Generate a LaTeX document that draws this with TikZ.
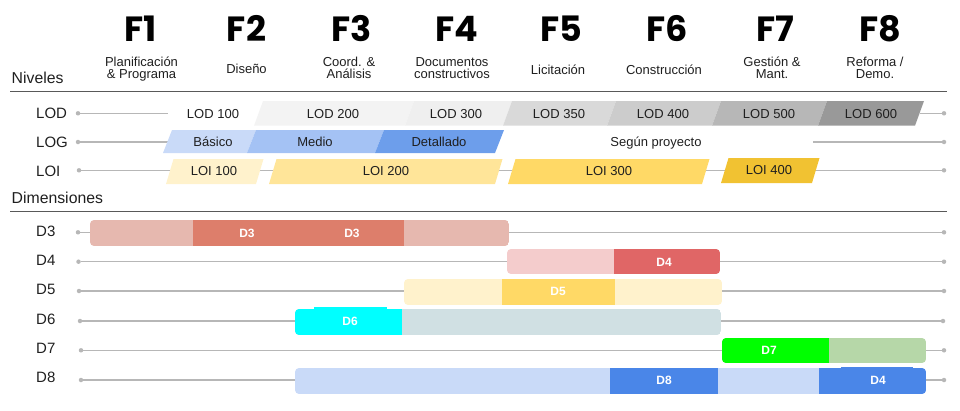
\documentclass[tikz,border=0pt]{standalone}
\usepackage{fontspec}
\setmainfont{Liberation Sans}
\newfontfamily\phasefont{Poppins}
\definecolor{txt}{HTML}{1F1F1F}
\definecolor{linegray}{HTML}{B7B7B7}
\definecolor{darkline}{HTML}{595959}
\definecolor{lodA}{HTML}{F3F3F3}
\definecolor{lodB}{HTML}{EFEFEF}
\definecolor{lodC}{HTML}{D9D9D9}
\definecolor{lodD}{HTML}{CCCCCC}
\definecolor{lodE}{HTML}{B7B7B7}
\definecolor{lodF}{HTML}{999999}
\definecolor{logA}{HTML}{C9DAF8}
\definecolor{logB}{HTML}{A4C2F4}
\definecolor{logC}{HTML}{6D9EEB}
\definecolor{loiA}{HTML}{FFF2CC}
\definecolor{loiB}{HTML}{FFE599}
\definecolor{loiC}{HTML}{FFD966}
\definecolor{loiD}{HTML}{F1C232}
\definecolor{dthreeL}{HTML}{E6B8AF}
\definecolor{dthreeD}{HTML}{DD7E6B}
\definecolor{dfourL}{HTML}{F4CCCC}
\definecolor{dfourD}{HTML}{E06666}
\definecolor{dfiveL}{HTML}{FFF2CC}
\definecolor{dfiveD}{HTML}{FFD966}
\definecolor{dsixL}{HTML}{D0E0E3}
\definecolor{dsixD}{HTML}{00FFFF}
\definecolor{dsevenL}{HTML}{B6D7A8}
\definecolor{dsevenD}{HTML}{00FF00}
\definecolor{deightL}{HTML}{C9DAF8}
\definecolor{deightD}{HTML}{4A86E8}
% parallelogram: colour, x bottom-left, x bottom-right, y top, y bottom, skew
\newcommand\mypara[6]{\fill[#1] (#2,#5) -- (#3,#5) -- ({#3+#6},#4) -- ({#2+#6},#4) -- cycle;}
\tikzset{
  rowlbl/.style={anchor=base west, font=\fontsize{15}{18}\selectfont, text=txt, inner sep=0pt},
  seclbl/.style={anchor=base west, font=\fontsize{15.8}{18}\selectfont, text=txt, inner sep=0pt},
  cell/.style={anchor=base, font=\fontsize{13}{15}\selectfont, text=txt, inner sep=0pt},
  barlbl/.style={anchor=base, font=\fontsize{12}{14}\selectfont\bfseries, text=white, inner sep=0pt},
  phase/.style={anchor=base, font=\phasefont\bfseries\fontsize{35}{40}\selectfont, text=black, inner sep=0pt},
  sub/.style={anchor=base, font=\fontsize{13}{15}\selectfont, text=txt, inner sep=0pt},
  rowline/.style={draw=linegray, line width=1.1pt},
  hline/.style={draw=darkline, line width=1.3pt},
  dot/.style={circle, fill=linegray, inner sep=0pt, minimum size=4.5pt},
}
\begin{document}
\begin{tikzpicture}[x=1pt,y=-1pt]
\useasboundingbox (0,0) rectangle (960,410);

% ---------- phases ----------
\node[phase] (f1) at (141,41) {F1};
\node[phase] (f2) at (246.5,41) {F2};
\node[phase] (f3) at (351.5,41) {F3};
\node[phase] (f4) at (456.5,41) {F4};
\node[phase] (f5) at (561,41) {F5};
\node[phase] (f6) at (667,41) {F6};
\node[phase] (f7) at (775,41) {F7};
\node[phase] (f8) at (880,41) {F8};

\node[sub] (s1a) at (141.5,66.5) {Planificación};
\node[sub] (s1b) at (141.5,78.5) {\& Programa};
\node[sub] (s2) at (246.5,73.8) {Diseño};
\node[sub] (s3a) at (349,66.5) {Coord. \&};
\node[sub] (s3b) at (349,78.8) {Análisis};
\node[sub] (s4a) at (452,66.5) {Documentos};
\node[sub] (s4b) at (452,78.5) {constructivos};
\node[sub] (s5) at (558,74.5) {Licitación};
\node[sub] (s6) at (664,74.5) {Construcción};
\node[sub] (s7a) at (772,66.5) {Gestión \&};
\node[sub] (s7b) at (772,78.5) {Mant.};
\node[sub] (s8a) at (875,66.5) {Reforma /};
\node[sub] (s8b) at (875,78.5) {Demo.};

% ---------- section headers ----------
\node[seclbl] (niveles) at (11.5,83.5) {Niveles};
\coordinate (h1a) at (10,91.8);
\coordinate (h1b) at (947,91.8);
\draw[hline] (h1a) -- (h1b);
\node[seclbl] (dimensiones) at (11.5,203.5) {Dimensiones};
\coordinate (h2a) at (10,211.3);
\coordinate (h2b) at (947,211.3);
\draw[hline] (h2a) -- (h2b);

% ---------- LOD ----------
\node[rowlbl] (lod) at (36,118.5) {LOD};
\node[dot] (lodL) at (78,113.3) {};
\node[dot] (lodR) at (944,113.3) {};
\coordinate (lodA) at (168,113.3);
\coordinate (lodB) at (919.5,113.3);
\draw[rowline] (lodL) -- (lodA);
\draw[rowline] (lodB) -- (lodR);
\mypara{lodA}{254}{405}{101}{125.7}{9}
\mypara{lodB}{405}{503}{101}{125.7}{9}
\mypara{lodC}{503}{607}{101}{125.7}{9}
\mypara{lodD}{607}{712}{101}{125.7}{9}
\mypara{lodE}{712}{818}{101}{125.7}{9}
\mypara{lodF}{818}{915}{101}{125.7}{9}
\node[cell] (lod100) at (213,118.3) {LOD 100};
\node[cell] (lod200) at (333,118.3) {LOD 200};
\node[cell] (lod300) at (456,118.3) {LOD 300};
\node[cell] (lod350) at (559,118.3) {LOD 350};
\node[cell] (lod400) at (663,118.3) {LOD 400};
\node[cell] (lod500) at (769,118.3) {LOD 500};
\node[cell] (lod600) at (871,118.3) {LOD 600};

% ---------- LOG ----------
\node[rowlbl] (log) at (36,147) {LOG};
\node[dot] (logL) at (78,142) {};
\node[dot] (logR) at (944,142) {};
\coordinate (logA) at (168,142);
\coordinate (logB) at (813,142);
\draw[rowline] (logL) -- (logA);
\draw[rowline] (logB) -- (logR);
\mypara{logA}{163}{247}{130}{153}{9}
\mypara{logB}{247}{375}{130}{153}{9}
\mypara{logC}{375}{495}{130}{153}{9}
\node[cell] (basico) at (213,146.7) {Básico};
\node[cell] (medio) at (315,146.7) {Medio};
\node[cell] (detallado) at (439,146.7) {Detallado};
\node[cell] (segun) at (656,146.7) {Según proyecto};

% ---------- LOI ----------
\node[rowlbl] (loi) at (36,176) {LOI};
\node[dot] (loiL) at (79,170.3) {};
\node[dot] (loiR) at (944,170.3) {};
\draw[rowline] (loiL) -- (loiR);
\mypara{loiA}{166}{256}{159}{184}{7.5}
\mypara{loiB}{269}{495}{159}{184}{7.5}
\mypara{loiC}{508}{702}{159}{184}{7.5}
\mypara{loiD}{721}{812}{158}{183}{7.5}
\node[cell] (loi100) at (214,175.7) {LOI 100};
\node[cell] (loi200) at (386,175.7) {LOI 200};
\node[cell] (loi300) at (609,175.7) {LOI 300};
\node[cell] (loi400) at (769,174.7) {LOI 400};

% ---------- D3 ----------
\node[rowlbl] (d3) at (36,236.7) {D3};
\node[dot] (d3L) at (78,232.3) {};
\node[dot] (d3R) at (944,232.3) {};
\draw[rowline] (d3L) -- (d3R);
\begin{scope}
  \clip[rounded corners=4pt] (90,220) rectangle (509,246);
  \fill[dthreeL] (90,220) rectangle (509,246);
  \fill[dthreeD] (193,220) rectangle (404,246);
\end{scope}
\node[barlbl] (d3a) at (247,237.3) {D3};
\node[barlbl] (d3b) at (352,237.3) {D3};

% ---------- D4 ----------
\node[rowlbl] (d4) at (36,265.5) {D4};
\node[dot] (d4L) at (78.5,261.7) {};
\node[dot] (d4R) at (944,261.7) {};
\draw[rowline] (d4L) -- (d4R);
\begin{scope}
  \clip[rounded corners=4pt] (507,249) rectangle (720,274);
  \fill[dfourL] (507,249) rectangle (720,274);
  \fill[dfourD] (614,249) rectangle (720,274);
\end{scope}
\node[barlbl] (d4a) at (664,266.3) {D4};

% ---------- D5 ----------
\node[rowlbl] (d5) at (36,294.5) {D5};
\node[dot] (d5L) at (79,291) {};
\node[dot] (d5R) at (944,291) {};
\draw[rowline] (d5L) -- (d5R);
\begin{scope}
  \clip[rounded corners=4pt] (404,279) rectangle (722,305);
  \fill[dfiveL] (404,279) rectangle (722,305);
  \fill[dfiveD] (502,279) rectangle (615,305);
\end{scope}
\node[barlbl] (d5a) at (558,295.8) {D5};

% ---------- D6 ----------
\node[rowlbl] (d6) at (36,324.2) {D6};
\node[dot] (d6L) at (80,321) {};
\node[dot] (d6R) at (943,321) {};
\draw[rowline] (d6L) -- (d6R);
\begin{scope}
  \clip[rounded corners=4pt] (295,309) rectangle (721,335);
  \fill[dsixL] (295,309) rectangle (721,335);
  \fill[dsixD] (295,309) rectangle (402,335);
\end{scope}
\fill[dsixD] (314,307.3) rectangle (387,310);
\node[barlbl] (d6a) at (350,325.5) {D6};

% ---------- D7 ----------
\node[rowlbl] (d7) at (36,353.5) {D7};
\node[dot] (d7L) at (81,350.3) {};
\node[dot] (d7R) at (944,350.3) {};
\draw[rowline] (d7L) -- (d7R);
\begin{scope}
  \clip[rounded corners=4pt] (722,338) rectangle (926,363);
  \fill[dsevenL] (722,338) rectangle (926,363);
  \fill[dsevenD] (722,338) rectangle (829,363);
\end{scope}
\node[barlbl] (d7a) at (769,354.5) {D7};

% ---------- D8 ----------
\node[rowlbl] (d8) at (36,382.5) {D8};
\node[dot] (d8L) at (81,380) {};
\node[dot] (d8R) at (944,380) {};
\draw[rowline] (d8L) -- (d8R);
\begin{scope}
  \clip[rounded corners=4pt] (295,368) rectangle (926,394);
  \fill[deightL] (295,368) rectangle (926,394);
  \fill[deightD] (610,368) rectangle (718,394);
  \fill[deightD] (819,368) rectangle (926,394);
\end{scope}
\fill[deightD] (841,367) rectangle (913,369);
\node[barlbl] (d8a) at (664,384.5) {D8};
\node[barlbl] (d8b) at (878,384.5) {D4};
\end{tikzpicture}
\end{document}
